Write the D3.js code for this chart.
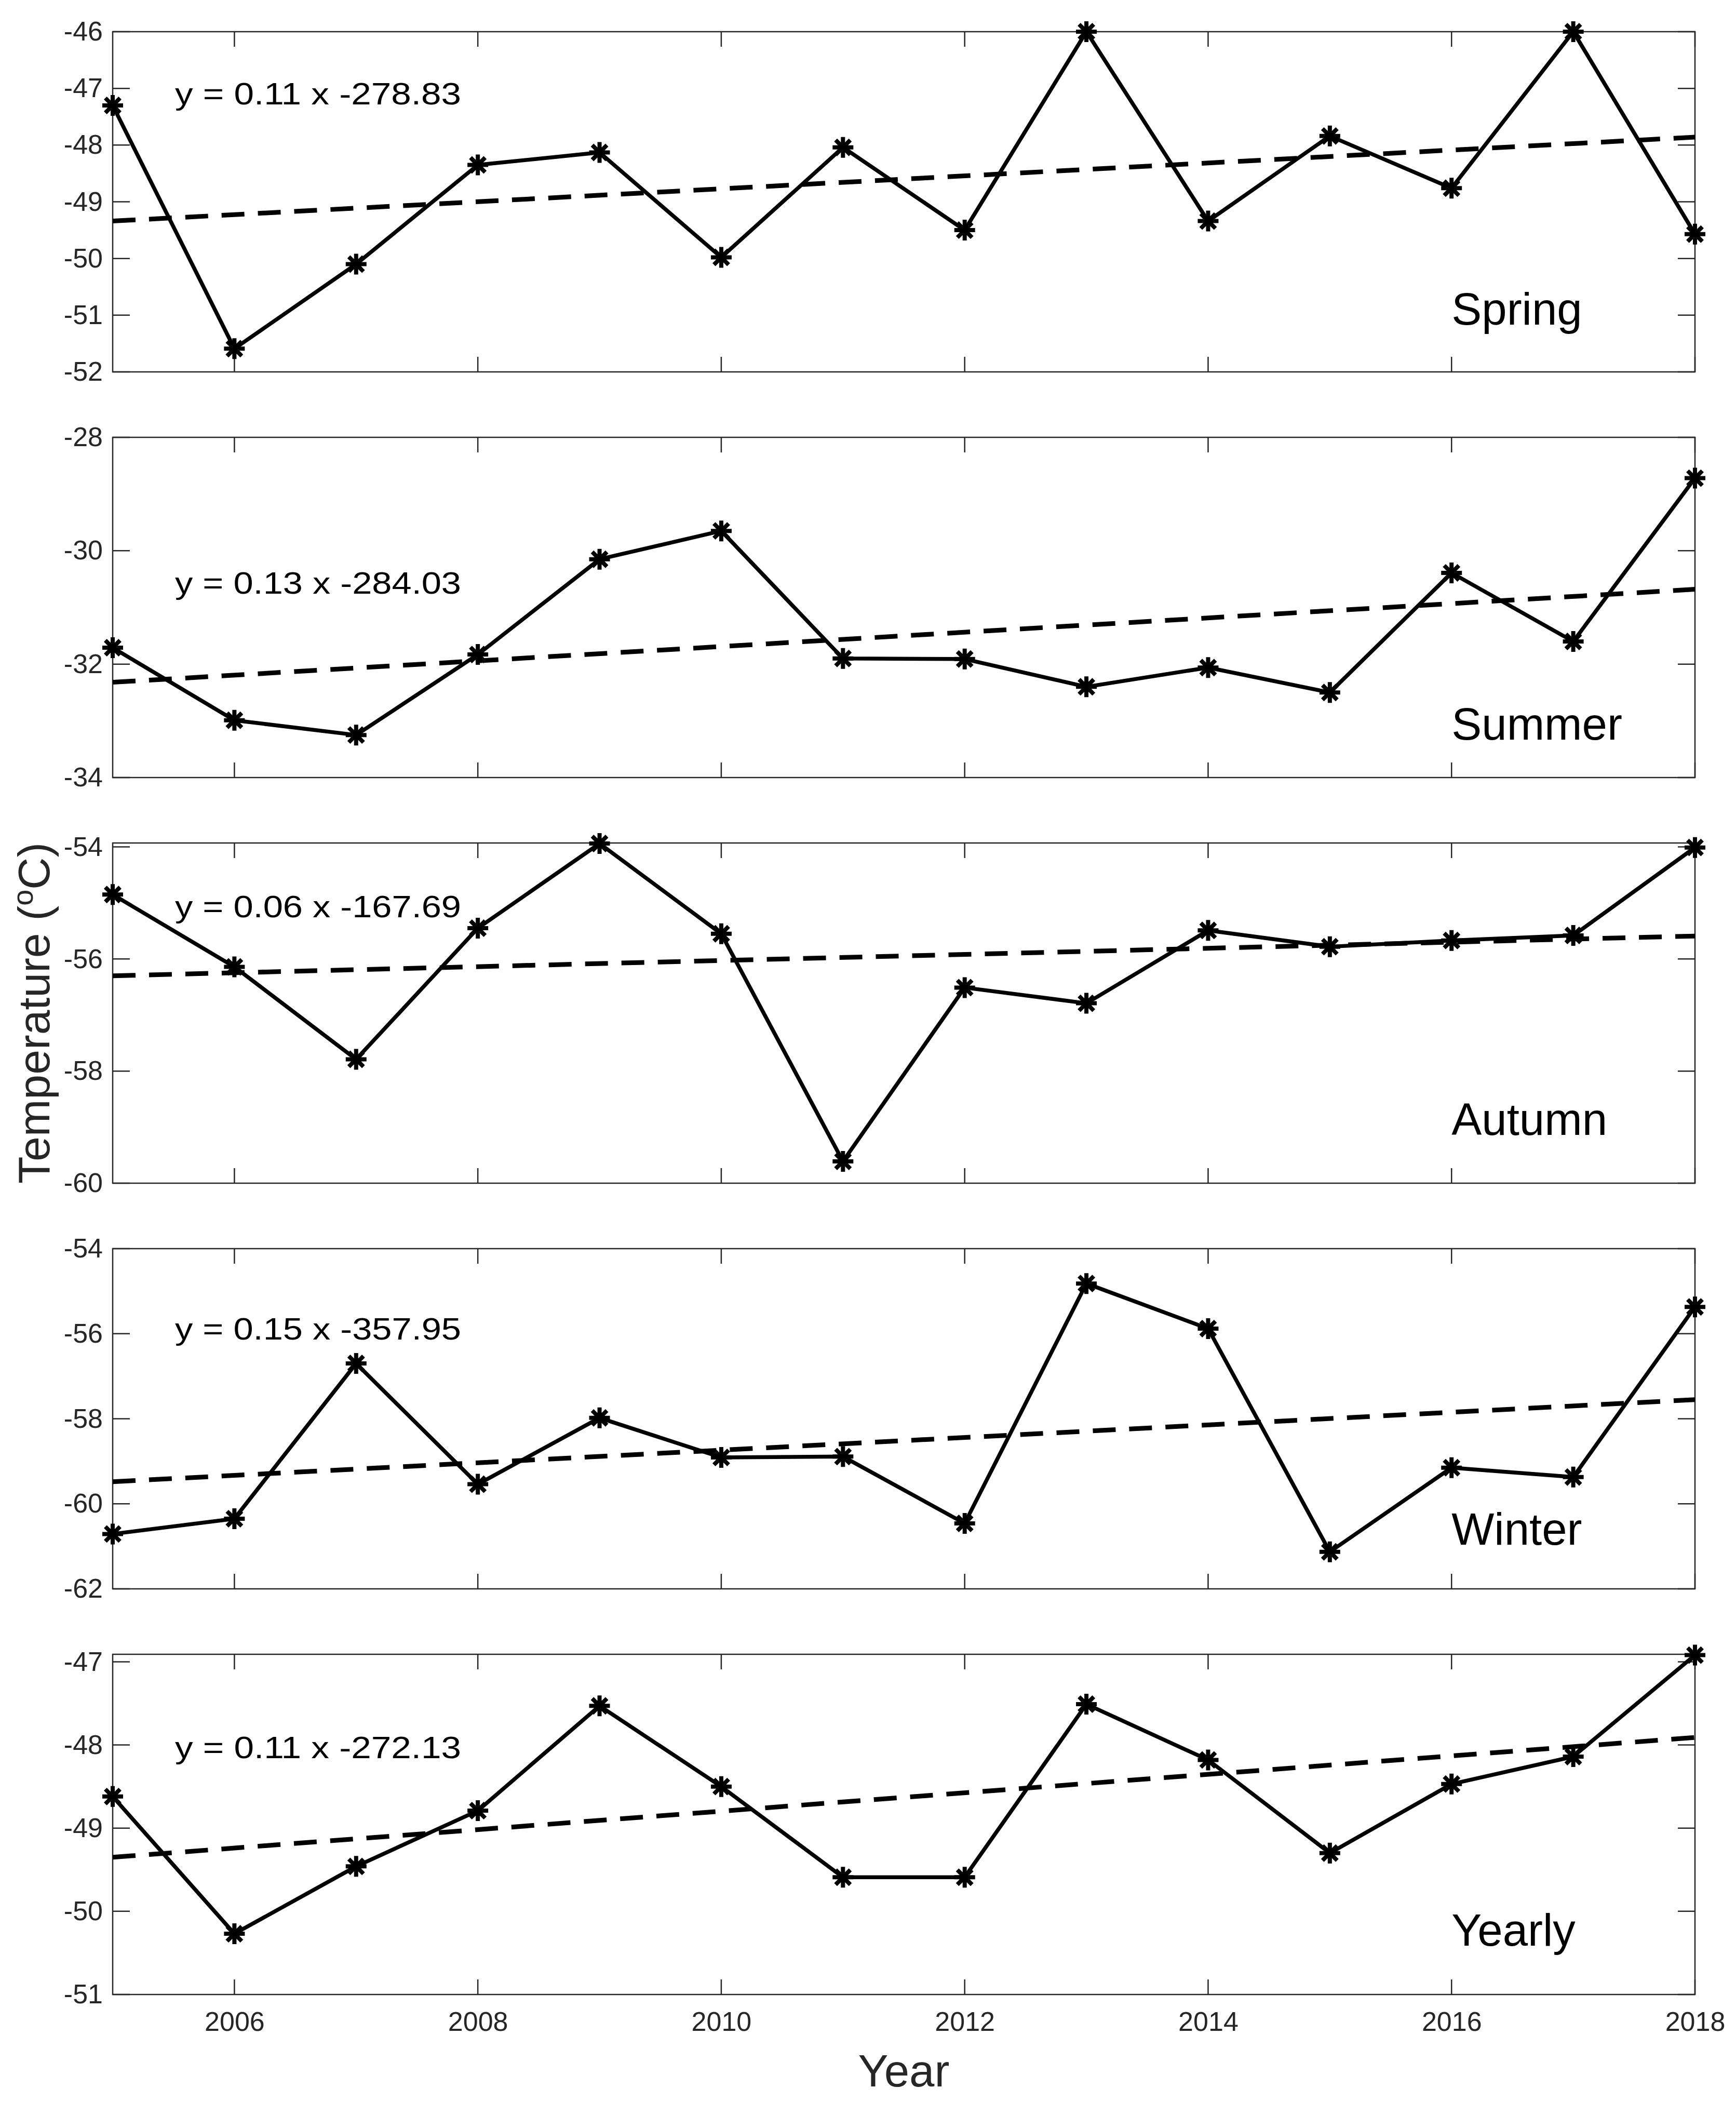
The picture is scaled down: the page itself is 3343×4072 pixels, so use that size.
<!DOCTYPE html>
<html>
<head>
<meta charset="utf-8">
<script src="https://cdn.jsdelivr.net/npm/d3@7/dist/d3.min.js"></script>
<style>
  html, body { margin: 0; padding: 0; background: #ffffff; }
  svg { display: block; }
</style>
</head>
<body>
<script>
// ---------------- DATA ----------------
const years = [2005, 2006, 2007, 2008, 2009, 2010, 2011, 2012, 2013, 2014, 2015, 2016, 2017, 2018];
const xTicks = [2006, 2008, 2010, 2012, 2014, 2016, 2018];

const seasonNames = ["Spring", "Summer", "Autumn", "Winter", "Yearly"];

const spring = [-47.30, -51.59, -50.10, -48.35, -48.13, -49.98, -48.04, -49.50, -46.00, -49.34, -47.84, -48.76, -46.00, -49.57];
const summer = [-31.71, -32.99, -33.25, -31.83, -30.15, -29.65, -31.90, -31.91, -32.40, -32.06, -32.50, -30.39, -31.60, -28.72];
const autumn = [-54.85, -56.14, -57.79, -55.45, -53.94, -55.55, -59.61, -56.51, -56.79, -55.49, -55.78, -55.67, -55.58, -54.01];
const winter = [-60.71, -60.35, -56.70, -59.54, -57.98, -58.91, -58.89, -60.46, -54.82, -55.88, -61.13, -59.15, -59.37, -55.37];
const yearly = [-48.62, -50.27, -49.46, -48.79, -47.53, -48.50, -49.59, -49.59, -47.51, -48.18, -49.30, -48.47, -48.14, -46.92];

// linear trend values at 2005 and 2018
const trendStart = [-49.34, -32.32, -56.30, -59.48, -49.35];
const trendEnd   = [-47.86, -30.68, -55.59, -57.55, -47.91];

const equations = ["y = 0.11 x -278.83", "y = 0.13 x -284.03", "y = 0.06 x -167.69", "y = 0.15 x -357.95", "y = 0.11 x -272.13"];

const yDomains = [[-52, -46], [-34, -28], [-60, -53.93], [-62, -54], [-51, -46.91]];
const yTicks = [
  [-52, -51, -50, -49, -48, -47, -46],
  [-34, -32, -30, -28],
  [-60, -58, -56, -54],
  [-62, -60, -58, -56, -54],
  [-51, -50, -49, -48, -47]
];

const series = [spring, summer, autumn, winter, yearly];

// ---------------- LAYOUT ----------------
const W = 3343, H = 4072;
const plotLeft = 217, plotRight = 3264;
const panelTops = [61, 842, 1623, 2404, 3185];
const panelH = 655;
const eqBaseline = [140, 301, 143, 175, 200];      // offset from panel top
const nameBaseline = [564, 582, 562, 570, 561];    // offset from panel top
const FONT = "'Liberation Sans', Arial, Helvetica, sans-serif";
const axisColor = "#262626";
const plainNum = d => String(d);   // hyphen-minus like the original

const svg = d3.select("body").append("svg")
  .attr("width", W).attr("height", H)
  .attr("viewBox", `0 0 ${W} ${H}`);
svg.append("rect").attr("width", W).attr("height", H).attr("fill", "#ffffff");

const x = d3.scaleLinear().domain([years[0], years[years.length - 1]]).range([plotLeft, plotRight]);

function asteriskPath(r) {
  const d = r * Math.SQRT1_2;
  return `M${-r},0L${r},0M0,${-r}L0,${r}M${-d},${-d}L${d},${d}M${-d},${d}L${d},${-d}`;
}

series.forEach((vals, i) => {
  const top = panelTops[i];
  const bottom = top + panelH;
  const y = d3.scaleLinear().domain(yDomains[i]).range([bottom, top]);
  const g = svg.append("g");

  // axes box
  g.append("rect")
    .attr("x", plotLeft).attr("y", top)
    .attr("width", plotRight - plotLeft).attr("height", panelH)
    .attr("fill", "none").attr("stroke", axisColor).attr("stroke-width", 2.5);

  const yTickLen = 33, xTickLen = 29;
  const leftAxis = d3.axisLeft(y).tickValues(yTicks[i]).tickSize(0).tickPadding(19).tickFormat(plainNum);
  const la = g.append("g").attr("transform", `translate(${plotLeft},0)`).call(leftAxis);
  la.select(".domain").remove();
  la.selectAll("text")
    .attr("font-family", FONT).attr("font-size", 52).attr("fill", axisColor);

  // y ticks (left and right, inside)
  yTicks[i].forEach(t => {
    g.append("line").attr("x1", plotLeft).attr("x2", plotLeft + yTickLen)
      .attr("y1", y(t)).attr("y2", y(t)).attr("stroke", axisColor).attr("stroke-width", 2.5);
    g.append("line").attr("x1", plotRight).attr("x2", plotRight - yTickLen)
      .attr("y1", y(t)).attr("y2", y(t)).attr("stroke", axisColor).attr("stroke-width", 2.5);
  });

  // x ticks (bottom and top, inside)
  xTicks.forEach(t => {
    g.append("line").attr("x1", x(t)).attr("x2", x(t))
      .attr("y1", bottom).attr("y2", bottom - xTickLen).attr("stroke", axisColor).attr("stroke-width", 2.5);
    g.append("line").attr("x1", x(t)).attr("x2", x(t))
      .attr("y1", top).attr("y2", top + xTickLen).attr("stroke", axisColor).attr("stroke-width", 2.5);
  });

  if (i === series.length - 1) {
    const bottomAxis = d3.axisBottom(x).tickValues(xTicks).tickSize(0).tickPadding(33).tickFormat(plainNum);
    const ba = g.append("g").attr("transform", `translate(0,${bottom})`).call(bottomAxis);
    ba.select(".domain").remove();
    ba.selectAll("text")
      .attr("font-family", FONT).attr("font-size", 52).attr("fill", axisColor);
  }

  // trend line (dashed)
  g.append("line")
    .attr("x1", x(years[0])).attr("y1", y(trendStart[i]))
    .attr("x2", x(years[years.length - 1])).attr("y2", y(trendEnd[i]))
    .attr("stroke", "#000").attr("stroke-width", 9)
    .attr("stroke-dasharray", "44,26");

  // data line
  const line = d3.line().x((d, k) => x(years[k])).y(d => y(d));
  g.append("path").datum(vals)
    .attr("d", line)
    .attr("fill", "none").attr("stroke", "#000").attr("stroke-width", 7.5)
    .attr("stroke-linejoin", "round");

  // markers
  g.selectAll(".mk").data(vals).enter().append("path")
    .attr("class", "mk")
    .attr("transform", (d, k) => `translate(${x(years[k])},${y(d)})`)
    .attr("d", asteriskPath(20))
    .attr("stroke", "#000").attr("stroke-width", 8).attr("fill", "none");

  // equation text
  g.append("text")
    .attr("x", 337).attr("y", top + eqBaseline[i])
    .attr("font-family", FONT).attr("font-size", 60).attr("fill", "#000")
    .attr("textLength", 551).attr("lengthAdjust", "spacingAndGlyphs")
    .text(equations[i]);

  // season label
  g.append("text")
    .attr("x", x(2016)).attr("y", top + nameBaseline[i])
    .attr("font-family", FONT).attr("font-size", 87).attr("fill", "#000")
    .text(seasonNames[i]);
});

// Axis titles
svg.append("text")
  .attr("x", (plotLeft + plotRight) / 2).attr("y", 4017)
  .attr("text-anchor", "middle")
  .attr("font-family", FONT).attr("font-size", 87).attr("fill", axisColor)
  .text("Year");

const yl = svg.append("text")
  .attr("transform", `translate(95,${(panelTops[0] + panelTops[4] + panelH) / 2}) rotate(-90)`)
  .attr("text-anchor", "middle")
  .attr("font-family", FONT).attr("font-size", 86).attr("fill", axisColor);
yl.append("tspan").text("Temperature (");
yl.append("tspan").attr("font-size", 56).attr("dy", -32).text("o");
yl.append("tspan").attr("dy", 32).text("C)");
</script>
</body>
</html>
